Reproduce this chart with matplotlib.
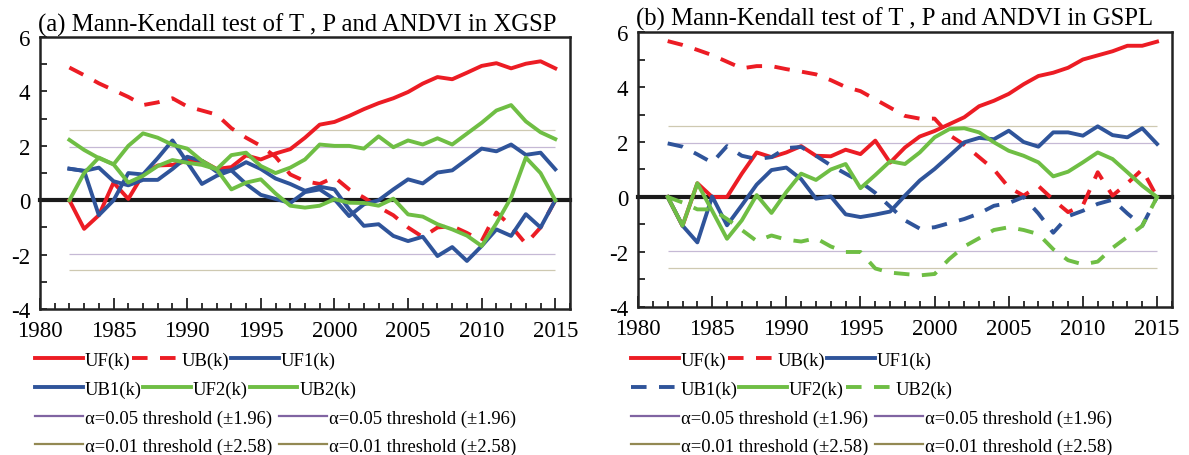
import numpy as np
import matplotlib
matplotlib.use("Agg")
import matplotlib.pyplot as plt
from matplotlib.lines import Line2D
from matplotlib.ticker import MultipleLocator

plt.rcParams['font.family'] = ['Liberation Serif', 'DejaVu Serif']
plt.rcParams['axes.unicode_minus'] = False

years = np.arange(1982, 2016)

# (a) XGSP
xg_uf = [0, -1.05, -0.55, 0.65, 0.05, 0.95, 1.28, 1.3, 1.45, 1.45, 1.15, 1.22, 1.65, 1.5, 1.72, 1.88,
         2.3, 2.78, 2.88, 3.1, 3.35, 3.57, 3.75, 3.98, 4.29, 4.53, 4.45, 4.69, 4.94, 5.04, 4.85, 5.02, 5.11, 4.85]
xg_ub = [4.88, 4.6, 4.3, 4.05, 3.8, 3.5, 3.6, 3.75, 3.45, 3.3, 3.15, 2.65, 2.3, 2.0, 1.6, 0.95,
         0.7, 0.6, 0.85, 0.4, 0.1, -0.25, -0.55, -1.0, -1.35, -1.0, -0.95, -1.2, -1.5, -0.45, -0.95, -1.6, -1.0, 0]
xg_uf1 = [1.16, 1.08, -0.55, 0.0, 1.0, 0.95, 1.55, 2.2, 1.4, 0.6, 0.9, 1.1, 0.6, 0.2, 0.05, -0.1,
          0.3, 0.4, 0.04, -0.58, -0.15, 0.0, 0.4, 0.77, 0.62, 1.02, 1.1, 1.5, 1.9, 1.8, 2.05, 1.67, 1.75, 1.14]
xg_ub1 = [1.16, 1.08, 1.2, 0.7, 0.55, 0.75, 0.75, 1.15, 1.6, 1.45, 1.05, 1.1, 1.4, 1.15, 0.8, 0.6,
          0.35, 0.5, 0.4, -0.33, -0.94, -0.88, -1.31, -1.5, -1.34, -2.05, -1.72, -2.23, -1.68, -1.07, -1.31, -0.51, -1.0, 0]
xg_uf2 = [0, 1.0, 1.57, 1.32, 0.65, 0.9, 1.26, 1.48, 1.38, 1.3, 1.14, 0.4, 0.65, 0.77, 0.25, -0.2,
          -0.27, -0.2, 0.04, -0.09, -0.1, -0.2, 0.06, -0.52, -0.6, -0.88, -1.07, -1.3, -1.68, -0.85, 0.1, 1.57, 1.0, 0]
xg_ub2 = [2.22, 1.85, 1.55, 1.32, 2.0, 2.46, 2.3, 2.04, 1.9, 1.45, 1.14, 1.66, 1.75, 1.26, 1.0, 1.2,
          1.5, 2.05, 2.0, 2.0, 1.9, 2.35, 1.95, 2.2, 2.05, 2.28, 2.05, 2.45, 2.85, 3.3, 3.5, 2.9, 2.5, 2.25]

# (b) GSPL
gs_uf = [0, -1.05, 0.5, 0.0, 0.0, 0.85, 1.62, 1.45, 1.62, 1.85, 1.5, 1.48, 1.72, 1.56, 2.05, 1.25,
         1.8, 2.2, 2.4, 2.65, 2.9, 3.3, 3.5, 3.75, 4.1, 4.4, 4.52, 4.7, 5.0, 5.15, 5.3, 5.5, 5.5, 5.65]
gs_ub = [5.67, 5.53, 5.35, 5.16, 4.92, 4.68, 4.76, 4.76, 4.65, 4.56, 4.46, 4.25, 4.0, 3.85, 3.55, 3.25,
         2.95, 2.85, 2.85, 2.25, 1.9, 1.45, 1.0, 0.35, 0.05, 0.4, -0.1, -0.55, -0.3, 0.9, 0.05, 0.5, 1.0, 0]
gs_uf1 = [0, -1.04, -1.65, 0.02, -1.03, -0.3, 0.45, 0.98, 1.07, 0.65, -0.06, 0.02, -0.63, -0.73, -0.64, -0.53,
          0.05, 0.6, 1.02, 1.5, 1.99, 2.15, 2.1, 2.41, 2.0, 1.83, 2.35, 2.35, 2.23, 2.57, 2.25, 2.17, 2.5, 1.93]
gs_ub1 = [1.95, 1.83, 1.55, 1.25, 1.85, 1.5, 1.38, 1.45, 1.78, 1.82, 1.5, 1.15, 0.85, 0.55, 0.15, -0.35,
          -0.85, -1.15, -1.1, -0.95, -0.8, -0.6, -0.32, -0.22, 0.0, -0.6, -1.3, -0.7, -0.5, -0.25, -0.1, -0.6, -1.05, 0]
gs_uf2 = [0, -1.04, 0.5, -0.5, -1.52, -0.85, 0.07, -0.58, 0.18, 0.85, 0.62, 1.0, 1.2, 0.32, 0.8, 1.3,
          1.2, 1.62, 2.17, 2.47, 2.5, 2.35, 1.99, 1.68, 1.5, 1.26, 0.75, 0.92, 1.26, 1.62, 1.38, 0.9, 0.41, 0]
gs_ub2 = [0, -0.2, -0.45, -0.45, -0.8, -1.2, -1.6, -1.4, -1.55, -1.62, -1.5, -1.8, -2.0, -2.0, -2.6, -2.75,
          -2.8, -2.85, -2.8, -2.25, -1.8, -1.5, -1.2, -1.1, -1.2, -1.35, -1.9, -2.3, -2.45, -2.35, -1.85, -1.45, -1.05, 0]

thr05 = 1.96
thr01 = 2.58
series_labels = ['UF(k)', 'UB(k)', 'UF1(k)', 'UB1(k)', 'UF2(k)', 'UB2(k)']
thr_labels = ['α=0.05 threshold (±1.96)', 'α=0.01 threshold (±2.58)']

RED = '#ec1c24'
BLUE = '#2f549a'
GREEN = '#6fbe44'
PURPLE = '#8064a2'
OLIVE = '#938953'

LW = 2.8
DASH = (0, (4.0, 3.2))
FS_TICK = 16.5
FS_LEG = 13.4
W, H = 1189, 456


def draw_panel(ax, series, dashed_b1, title, leg_x):
    uf, ub, uf1, ub1, uf2, ub2 = series
    ax.hlines([thr05, -thr05], years[0], years[-1], color=PURPLE, lw=0.9, alpha=0.45, zorder=1)
    ax.hlines([thr01, -thr01], years[0], years[-1], color=OLIVE, lw=0.9, alpha=0.45, zorder=1)
    ax.axhline(0, color='#1a1a1a', lw=3.0, zorder=2, clip_on=False)

    ls_b = DASH if dashed_b1 else '-'
    styles = [(RED, '-'), (RED, DASH), (BLUE, '-'), (BLUE, ls_b), (GREEN, '-'), (GREEN, ls_b)]
    lines = []
    for vals, (c, ls) in zip([uf, ub, uf1, ub1, uf2, ub2], styles):
        ln, = ax.plot(years, vals, color=c, lw=LW, ls=ls, zorder=3)
        lines.append(ln)

    ax.set_xlim(1980, 2016)
    ax.set_ylim(-4, 6)
    ax.xaxis.set_major_locator(MultipleLocator(5))
    ax.xaxis.set_minor_locator(MultipleLocator(1))
    ax.yaxis.set_major_locator(MultipleLocator(2))
    ax.yaxis.set_minor_locator(MultipleLocator(1))
    ax.tick_params(which='both', direction='in', labelsize=FS_TICK, width=1.3, color='#222222')
    ax.tick_params(axis='x', which='major', length=8, pad=8)
    ax.tick_params(axis='x', which='minor', length=4)
    ax.tick_params(axis='y', which='both', length=5, pad=7)
    for s in ax.spines.values():
        s.set_linewidth(1.8)
        s.set_color('#222222')
    ax.set_title(title, loc='left', fontsize=17.8, pad=5, x=-0.003)

    # legend laid out row by row, entries packed one after another
    p05 = Line2D([], [], color=PURPLE, lw=1.6)
    p01 = Line2D([], [], color=OLIVE, lw=1.6)
    rows = [
        (lines[0:3], series_labels[0:3], 361, 0.1),
        (lines[3:6], series_labels[3:6], 390, 0.1),
        ([p05, p05], [thr_labels[0]] * 2, 419, 0.4),
        ([p01, p01], [thr_labels[1]] * 2, 447, 0.4),
    ]
    for hs, ls, ypx, csp in rows:
        leg = fig.legend(hs, ls, ncol=len(hs), loc='center left',
                         bbox_to_anchor=(leg_x / W, 1 - ypx / H),
                         frameon=False, fontsize=FS_LEG, handlelength=2.56,
                         handletextpad=0.1, columnspacing=csp,
                         borderpad=0, borderaxespad=0)
        for h in leg.legend_handles:
            if h.get_linestyle() != '-':
                h.set_dashes((4.0, 3.2))


fig = plt.figure(figsize=(11.89, 4.56), dpi=100)
ax1 = fig.add_axes([0.0336, 0.320, 0.4458, 0.5965])
ax2 = fig.add_axes([0.5366, 0.3246, 0.449, 0.603])

draw_panel(ax1, (xg_uf, xg_ub, xg_uf1, xg_ub1, xg_uf2, xg_ub2), False,
           '(a) Mann-Kendall test of T , P and ANDVI in XGSP', 35)
draw_panel(ax2, (gs_uf, gs_ub, gs_uf1, gs_ub1, gs_uf2, gs_ub2), True,
           '(b) Mann-Kendall test of T , P and ANDVI in GSPL', 631)

fig.savefig('out.png', dpi=100)
